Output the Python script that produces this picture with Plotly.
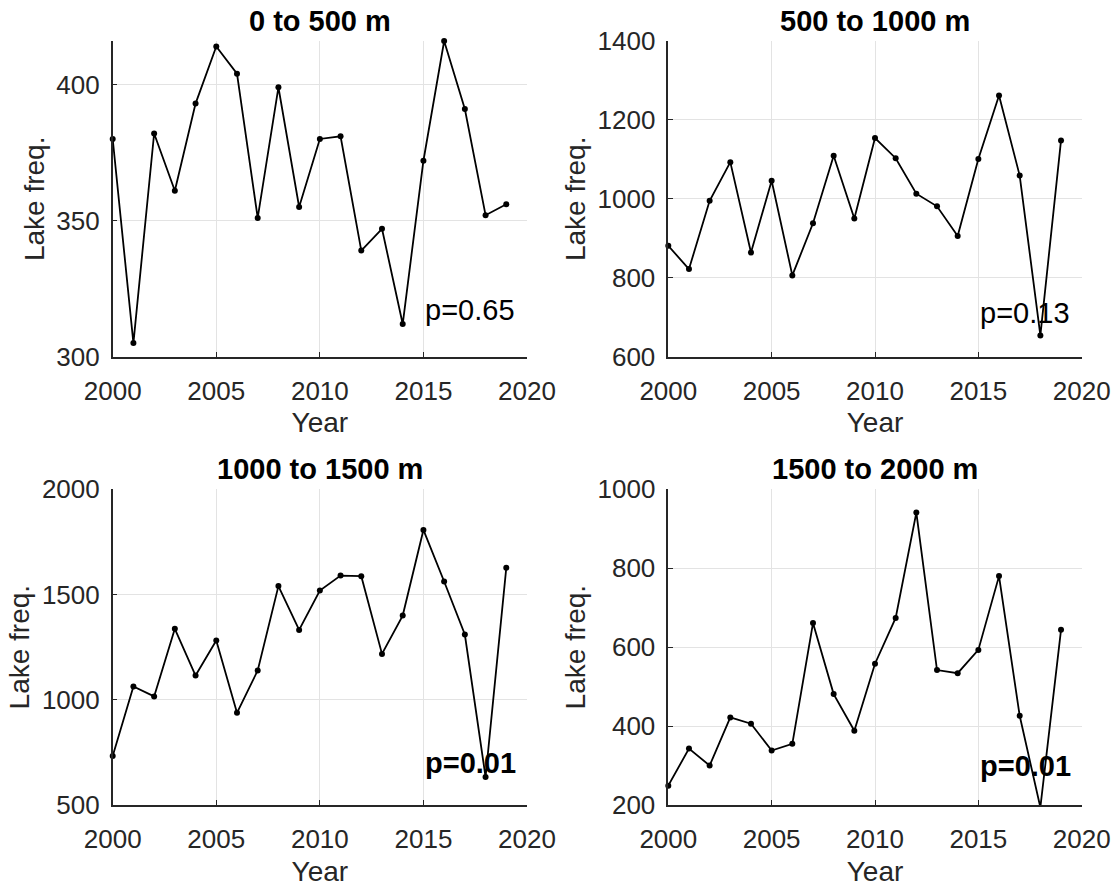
import plotly.graph_objects as go

years = list(range(2000, 2020))
freq_0_500 = [380, 305, 382, 361, 393, 414, 404, 351, 399, 355,
              380, 381, 339, 347, 312, 372, 416, 391, 352, 356]
freq_500_1000 = [881, 822, 995, 1093, 864, 1046, 806, 938, 1109, 950,
                 1154, 1103, 1013, 981, 906, 1101, 1262, 1059, 654, 1148]
freq_1000_1500 = [733, 1063, 1016, 1337, 1115, 1282, 938, 1139, 1540, 1332,
                  1519, 1590, 1587, 1218, 1400, 1807, 1562, 1310, 633, 1627]
freq_1500_2000 = [249, 343, 300, 422, 406, 338, 355, 661, 481, 388,
                  558, 674, 941, 542, 534, 593, 780, 426, 194, 644]

titles = ["0 to 500 m", "500 to 1000 m", "1000 to 1500 m", "1500 to 2000 m"]
p_labels = ["p=0.65", "p=0.13", "p=0.01", "p=0.01"]
p_bold = [False, False, True, True]
p_y = [317, 710, 700, 300]
p_x = 2015
y_ranges = [[300, 416], [600, 1400], [500, 2000], [200, 1000]]
y_ticks = [[300, 350, 400], [600, 800, 1000, 1200, 1400],
           [500, 1000, 1500, 2000], [200, 400, 600, 800, 1000]]
x_ticks = [2000, 2005, 2010, 2015, 2020]
x_label = "Year"
y_label = "Lake freq."

series = [freq_0_500, freq_500_1000, freq_1000_1500, freq_1500_2000]

W, H = 1115, 887
col_px = [(112.7, 527.0), (668.3, 1081.7)]
row_px = [(41.0, 356.7), (489.3, 805.0)]

FONT = "Arial, Liberation Sans, Helvetica, sans-serif"
TXT = "#262626"
GRID = "#e3e3e3"

fig = go.Figure()
layout = dict(
    width=W, height=H, margin=dict(l=0, r=0, t=0, b=0, pad=0, autoexpand=False),
    paper_bgcolor="white", plot_bgcolor="white", showlegend=False,
    font=dict(family=FONT, color=TXT, size=26),
)
annotations = []
for i, vals in enumerate(series):
    r, c = divmod(i, 2)
    xa = "xaxis" if i == 0 else f"xaxis{i+1}"
    ya = "yaxis" if i == 0 else f"yaxis{i+1}"
    xref = "x" if i == 0 else f"x{i+1}"
    yref = "y" if i == 0 else f"y{i+1}"
    x0, x1 = col_px[c]
    t, b = row_px[r]
    fig.add_trace(go.Scatter(
        x=years, y=vals, mode="lines+markers", xaxis=xref, yaxis=yref,
        line=dict(color="black", width=1.8),
        marker=dict(color="black", size=6), cliponaxis=False,
    ))
    layout[xa] = dict(
        domain=[x0 / W, x1 / W], anchor=yref, range=[2000, 2020],
        tickvals=x_ticks, showgrid=True, gridcolor=GRID, gridwidth=1,
        showline=True, linecolor=TXT, linewidth=1.5, mirror=False,
        ticks="inside", ticklen=5, tickcolor=TXT, zeroline=False,
        automargin=False, ticklabelstandoff=10,
        tickfont=dict(size=26, color=TXT, family=FONT),
        title=dict(text=x_label, font=dict(size=28, color=TXT, family=FONT), standoff=8),
    )
    layout[ya] = dict(
        domain=[1 - b / H, 1 - t / H], anchor=xref, range=y_ranges[i],
        tickvals=y_ticks[i], showgrid=True, gridcolor=GRID, gridwidth=1,
        showline=True, linecolor=TXT, linewidth=1.5, mirror=False,
        ticks="inside", ticklen=5, tickcolor=TXT, zeroline=False,
        automargin=False, ticklabelstandoff=6,
        tickfont=dict(size=26, color=TXT, family=FONT),
        title=dict(text=y_label, font=dict(size=28, color=TXT, family=FONT), standoff=4),
    )
    annotations.append(dict(
        text=f"<b>{titles[i]}</b>", x=(x0 + x1) / 2 / W, y=1 - (t - 20) / H,
        xref="paper", yref="paper", xanchor="center", yanchor="middle",
        showarrow=False, font=dict(size=29, color="black", family=FONT),
    ))
    ptxt = f"<b>{p_labels[i]}</b>" if p_bold[i] else p_labels[i]
    annotations.append(dict(
        text=ptxt, x=p_x, y=p_y[i], xref=xref, yref=yref,
        xanchor="left", yanchor="middle", showarrow=False,
        font=dict(size=29, color="black", family=FONT),
    ))
layout["annotations"] = annotations
fig.update_layout(**layout)

fig.write_html("out.html", config={"displayModeBar": False},
               post_script="document.body.style.margin='0';")
